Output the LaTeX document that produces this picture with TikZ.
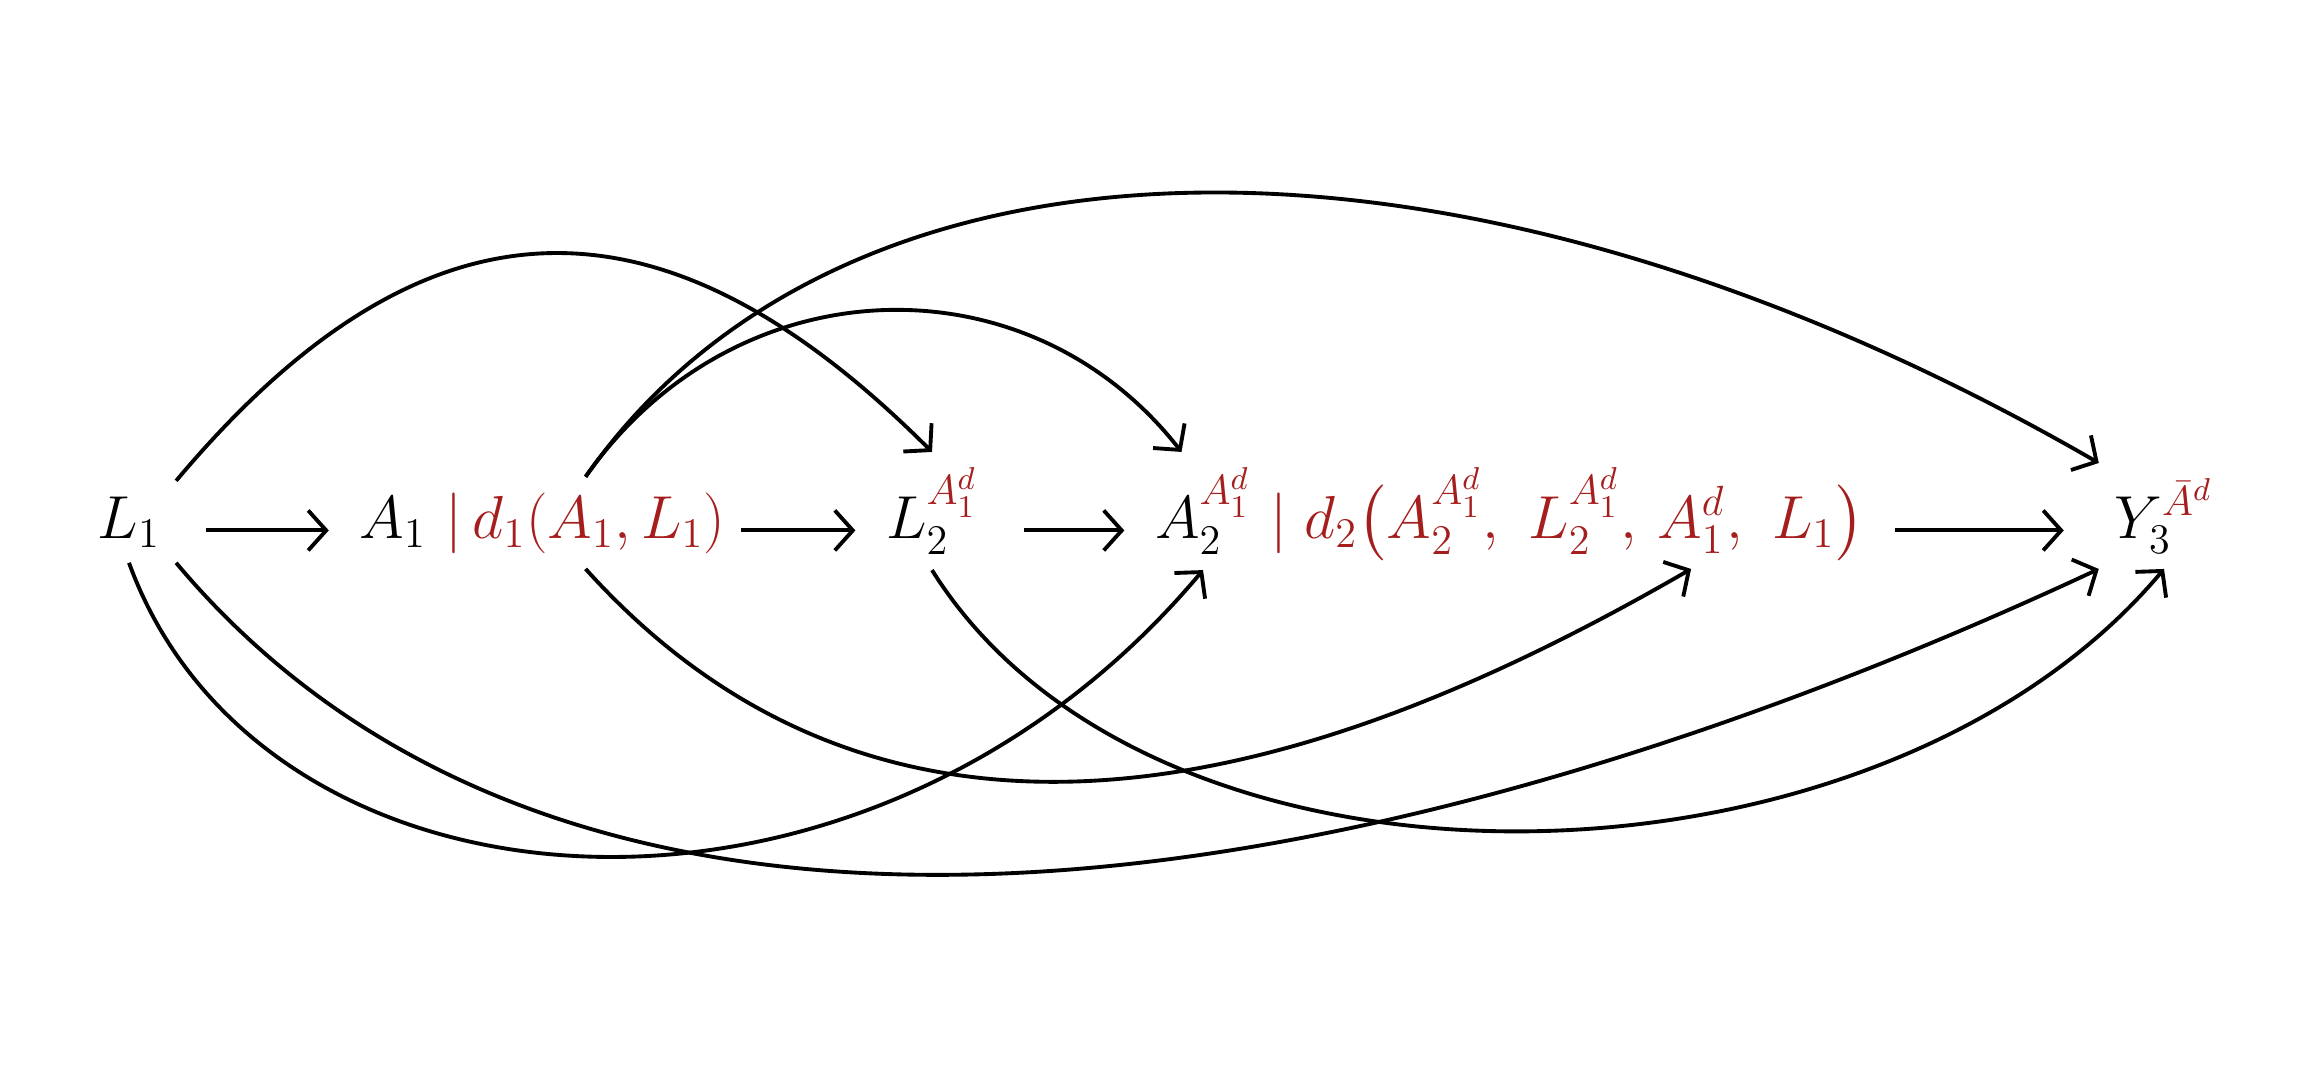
\documentclass[tikz,border=0pt]{standalone}
\usepackage{amsmath,amssymb}
\usepackage{tikz}
\usetikzlibrary{positioning,arrows.meta}
\definecolor{argred}{RGB}{165,30,30}

\begin{document}
\begin{tikzpicture}[
    var/.style={inner sep=0.15cm, anchor=base, font=\fontsize{18}{22}\selectfont},
    arg/.style={var, text=argred, inner xsep=0pt},
    link/.style={line width=1.1pt, ->, >={Straight Barb[length=1.8mm,width=4mm]}},
    flat/.style={link, shorten <=0.3cm, shorten >=0.15cm}
  ]
  \useasboundingbox (0,0) rectangle (23,10.84);

  \node[var] (L1) at (1.29,5.46) {$L_1$};
  \node[var] (A1) at (3.93,5.46) {$A_1$};
  \node[arg, anchor=base west] (d1) at (4.45,5.46) {$|\,d_1(A_1,L_1)$};
  \node[var] (L2) at (9.32,5.46) {$L_2^{\textcolor{argred}{A_1^d}}$};
  \node[var] (A2) at (12.03,5.46) {$A_2^{\textcolor{argred}{A_1^d}}$};
  \node[arg, anchor=base west] (d2) at (12.7,5.46) {$|\;d_2\bigl(A_2^{A_1^d},\ L_2^{A_1^d},\ $};
  \node[arg, base right=0pt of d2] (A1d) {$A_1^d$};
  \node[arg, base right=0pt of A1d] (d2r) {$,\ L_1\bigr)$};
  \node[var] (Y3) at (21.64,5.46) {$Y_3^{\textcolor{argred}{\bar A^d}}$};

  \draw[flat] (L1.mid east) -- (A1.mid west);
  \draw[flat, shorten <=0.15cm] (d1.mid east) -- (L2.mid west);
  \draw[flat] (L2.mid east) -- (A2.mid west);
  \draw[flat, shorten >=0.35cm] (d2r.mid east) -- (Y3.mid west);

  \draw[link] (L1.north east) .. controls +(50:3.9) and +(135:3.8) .. (L2.north);
  \draw[link] (d1.north) .. controls +(55:2.6) and +(128:2.5) .. (A2.110);
  \draw[link] (d1.north) .. controls +(55:4.5) and +(150:7.4) .. (Y3.north west);
  \draw[link] (L1.south) .. controls +(-70:3.9) and +(-130:5.3) .. (A2.south);
  \draw[link] (L1.south east) .. controls +(-50:6.5) and +(-155:7.5) .. (Y3.south west);
  \draw[link] (d1.south) .. controls +(-48:5) and +(-150:3.6) .. (A1d.south);
  \draw[link] (L2.south) .. controls +(-58:4.2) and +(-130:4.45) .. (Y3.south);
\end{tikzpicture}
\end{document}
